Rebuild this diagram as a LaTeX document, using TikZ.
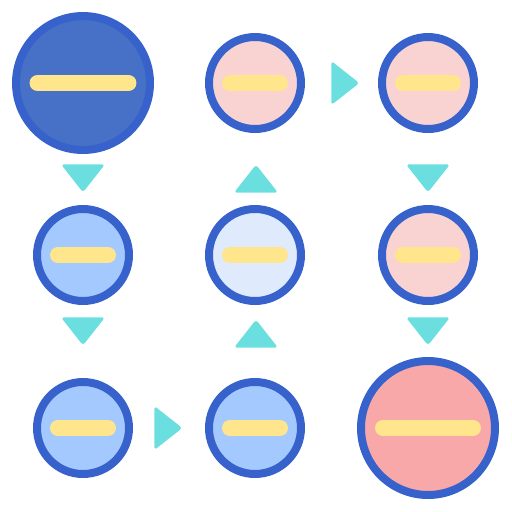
\documentclass[tikz,border=0pt]{standalone}
\usetikzlibrary{positioning, shapes.geometric}
\definecolor{rim}{HTML}{3762CC}
\definecolor{darkfill}{HTML}{4671C6}
\definecolor{bluefill}{HTML}{A4C9FF}
\definecolor{palefill}{HTML}{DFEAFC}
\definecolor{pinkfill}{HTML}{F9D2D2}
\definecolor{redfill}{HTML}{F8A8A8}
\definecolor{barcol}{HTML}{FFE68C}
\definecolor{tricol}{HTML}{6BDFDF}

\begin{document}
\begin{tikzpicture}
    [
        x=0.02cm, y=-0.02cm,
        small_node/.style={circle, draw=rim, line width=0.16cm, inner sep=0pt, minimum size=1.84cm},
        big_node/.style={circle, draw=rim, line width=0.16cm, inner sep=0pt, minimum size=2.68cm},
        bar/.style={draw=barcol, line width=0.32cm, line cap=round},
        tri/.style={isosceles triangle, isosceles triangle stretches, fill=tricol, inner sep=0pt, minimum height=0.56cm, minimum width=0.88cm, rounded corners=0.06cm, anchor=lower side},
    ]
        \useasboundingbox (0,0) rectangle (512,512);
        \node[big_node, fill=darkfill] (start) at (83,83) {} ;
        \node[small_node, fill=pinkfill] (p1) at (255,83) {} ;
        \node[small_node, fill=pinkfill] (p2) at (428,83) {} ;
        \node[small_node, fill=bluefill] (b1) at (83,255) {} ;
        \node[small_node, fill=palefill] (mid) at (255,255) {} ;
        \node[small_node, fill=pinkfill] (p3) at (428,255) {} ;
        \node[small_node, fill=bluefill] (b2) at (83,428) {} ;
        \node[small_node, fill=bluefill] (b3) at (255,428) {} ;
        \node[big_node, fill=redfill] (goal) at (428,428) {} ;
        % bars
        \draw[bar] ([xshift=-0.91cm]start.center) -- ([xshift=0.91cm]start.center) ;
        \draw[bar] ([xshift=-0.9cm]goal.center) -- ([xshift=0.9cm]goal.center) ;
        \foreach \n in {p1, p2, b1, mid, p3, b2, b3}
            \draw[bar] ([xshift=-0.5cm]\n.center) -- ([xshift=0.5cm]\n.center) ;
        % arrow heads
        \node[tri, rotate=-90] (t1) at (83,164) {} ;
        \node[tri, rotate=-90] (t2) at (83,317) {} ;
        \node[tri] (t3) at (154,428) {} ;
        \node[tri, rotate=90] (t4) at (256,348) {} ;
        \node[tri, rotate=90] (t5) at (256,193) {} ;
        \node[tri] (t6) at (331,83) {} ;
        \node[tri, rotate=-90] (t7) at (428,164) {} ;
        \node[tri, rotate=-90] (t8) at (428,317) {} ;
    \end{tikzpicture}
\end{document}
